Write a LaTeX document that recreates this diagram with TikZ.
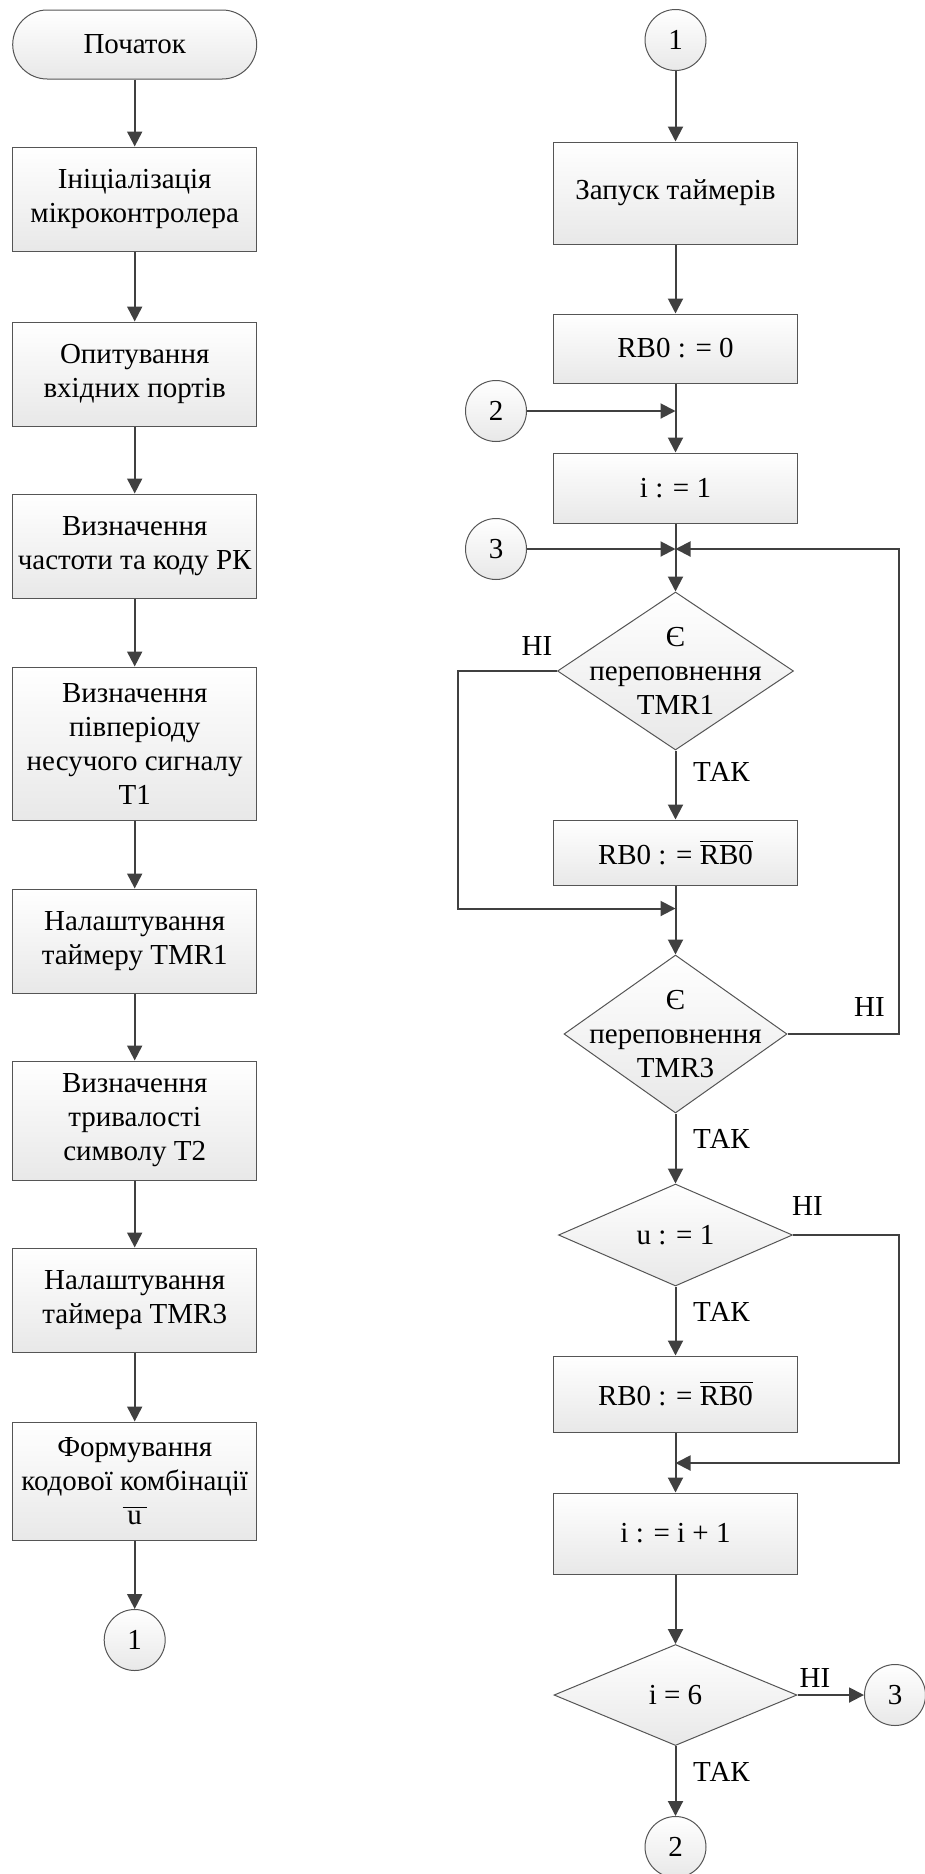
\documentclass[tikz,border=0pt]{standalone}
\usepackage{fontspec}
\setmainfont{Liberation Serif}
\usetikzlibrary{arrows.meta,shapes.geometric}
\definecolor{linegray}{HTML}{404040}
\definecolor{edgegray}{HTML}{555555}
\newcommand{\barred}[2]{$\overline{\hbox{#1}\rule{0pt}{#2}}$}

\begin{document}
\begin{tikzpicture}[x=1pt,y=-1pt,
    font=\fontsize{29}{34}\selectfont,
    >={Triangle[length=15pt,width=15pt]},
    gfill/.style={top color=white,bottom color=black!9,draw=edgegray,line width=1pt},
    block/.style={gfill,rectangle,minimum width=244pt,align=center,inner sep=0pt},
    term/.style={block,rounded corners=34.5pt,minimum height=69pt},
    decision/.style={gfill,diamond,inner sep=0pt},
    conn/.style={gfill,circle,minimum size=61pt,inner sep=0pt},
    flow/.style={draw=linegray,line width=2pt},
    lbl/.style={inner sep=0pt}]
    \useasboundingbox (0,0) rectangle (924,1874);

    % left column
    \node[term] (start) at (134.7,44.5) {Початок};
    \node[block,minimum height=104pt] (init) at (134.7,199) {Ініціалізація\\мікроконтролера};
    \node[block,minimum height=104pt] (poll) at (134.7,374) {Опитування\\вхідних портів};
    \node[block,minimum height=104pt] (freq) at (134.7,546) {Визначення\\частоти та коду РК};
    \node[block,minimum height=153pt] (half) at (134.7,743.5) {Визначення\\півперіоду\\несучого сигналу\\T1};
    \node[block,minimum height=104pt] (tmra) at (134.7,941) {Налаштування\\таймеру TMR1};
    \node[block,minimum height=119pt] (dur) at (134.7,1120.5) {Визначення\\тривалості\\символу T2};
    \node[block,minimum height=104pt] (tmrb) at (134.7,1300) {Налаштування\\таймера TMR3};
    \node[block,minimum height=118pt] (code) at (134.7,1481) {Формування\\кодової комбінації\\\barred{\,u\,}{16pt}};
    \node[conn] (out1) at (134.7,1640) {1};

    % right column
    \node[conn] (in1) at (675.5,40) {1};
    \node[block,minimum height=102pt] (run) at (675.5,193) {Запуск таймерів};
    \node[block,minimum height=69pt] (rbzero) at (675.5,348.5) {RB0 : = 0};
    \node[conn] (in2) at (496,411) {2};
    \node[block,minimum height=70pt] (ione) at (675.5,488) {i : = 1};
    \node[conn] (in3) at (496,549) {3};
    \node[decision,minimum width=236pt,minimum height=158pt] (ovfa) at (675.5,671) {};
    \node[align=center] (ovfatext) at (ovfa) {Є\\переповнення\\TMR1};
    \node[block,minimum height=65pt] (inva) at (675.5,852.5) {RB0 : = \barred{RB0}{22pt}};
    \node[decision,minimum width=223pt,minimum height=158pt] (ovfb) at (675.5,1034) {};
    \node[align=center] (ovfbtext) at (ovfb) {Є\\переповнення\\TMR3};
    \node[decision,minimum width=234pt,minimum height=102pt] (ucheck) at (675.5,1235) {u : = 1};
    \node[block,minimum height=76pt] (invb) at (675.5,1394) {RB0 : = \barred{RB0}{22pt}};
    \node[block,minimum height=81pt] (inc) at (675.5,1533.5) {i : = i + 1};
    \node[decision,minimum width=243pt,minimum height=101pt] (icheck) at (675.5,1695) {i = 6};
    \node[conn] (out3) at (895,1695) {3};
    \node[conn] (out2) at (675.5,1847) {2};

    % joints of the loops
    \coordinate (jtwo) at (675.5,411);
    \coordinate (jthree) at (675.5,549);
    \coordinate (jfour) at (675.5,908.5);
    \coordinate (jfive) at (675.5,1463);
    \coordinate (lloop) at (458,908.5);
    \coordinate (rloopa) at (899,549);
    \coordinate (rloopb) at (899,1463);

    \foreach \a/\b in {start/init,init/poll,poll/freq,freq/half,half/tmra,tmra/dur,dur/tmrb,tmrb/code,code/out1,
        in1/run,run/rbzero,rbzero/ione,ione/ovfa,ovfa/inva,inva/ovfb,ovfb/ucheck,ucheck/invb,invb/inc,inc/icheck,
        icheck/out3,icheck/out2,in2/jtwo,in3/jthree}
      \draw[flow,->] (\a) -- (\b);

    \draw[flow,->] (ovfa.west) -| (lloop) -- (jfour);
    \draw[flow,->] (ovfb.east) -| (rloopa) -- (jthree);
    \draw[flow,->] (ucheck.east) -| (rloopb) -- (jfive);

    % labels
    \node[lbl] (noa) at (537,646) {НІ};
    \node[lbl] (yesa) at (721.5,772) {ТАК};
    \node[lbl] (nob) at (869.5,1007) {НІ};
    \node[lbl] (yesb) at (721.5,1139) {ТАК};
    \node[lbl] (noc) at (807.5,1206) {НІ};
    \node[lbl] (yesc) at (721.5,1312) {ТАК};
    \node[lbl] (nod) at (815,1677.5) {НІ};
    \node[lbl] (yesd) at (721.5,1772) {ТАК};
\end{tikzpicture}
\end{document}
